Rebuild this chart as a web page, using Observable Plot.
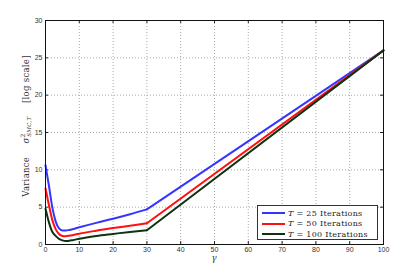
<!DOCTYPE html>
<html>
<head>
<meta charset="utf-8">
<script src="https://cdn.jsdelivr.net/npm/d3@7"></script>
<script src="https://cdn.jsdelivr.net/npm/@observablehq/plot@0.6"></script>
<style>
  html, body { margin: 0; padding: 0; background: #fff; }
  #wrap { position: relative; width: 415px; height: 274px; }
  #legend {
    position: absolute; left: 257px; top: 205px; width: 121px; height: 35px;
    border: 1px solid #333; background: #fff; box-sizing: border-box;
    font-family: "DejaVu Serif", "Liberation Serif", serif; font-size: 8px; color: #222;
  }
  #legend .row { position: absolute; left: 4px; height: 11px; display: flex; align-items: center; white-space: nowrap; letter-spacing: 0.3px; }
  #legend .sw { width: 23px; height: 0; border-top: 2px solid; margin-right: 3px; }
  #legend i { font-style: italic; }
</style>
</head>
<body>
<div id="wrap"></div>
<script>
// Curved part (gamma 0..30)
const gammaCurve = [0, 1, 2, 3, 4, 5, 6, 7, 8, 10, 15, 20, 25, 30];
const var25 = [10.6, 7.9, 5.0, 3.1, 2.15, 1.88, 1.88, 1.95, 2.05, 2.3, 2.9, 3.45, 4.05, 4.7];
const var50 = [7.5, 5.3, 3.3, 2.05, 1.4, 1.15, 1.12, 1.17, 1.25, 1.45, 1.85, 2.2, 2.52, 2.85];
const var100 = [4.8, 3.0, 1.7, 1.15, 0.75, 0.55, 0.47, 0.5, 0.58, 0.78, 1.15, 1.42, 1.68, 1.9];
// Straight part (gamma 30..100)
const gammaLine = [30, 100];
const line25 = [4.7, 26];
const line50 = [2.85, 26];
const line100 = [1.9, 26];

const seriesNames = ["T = 25 Iterations", "T = 50 Iterations", "T = 100 Iterations"];
const colors = ["#3535ff", "#ff1010", "#0f3312"];
const xTicks = [0, 10, 20, 30, 40, 50, 60, 70, 80, 90, 100];
const yTicks = [0, 5, 10, 15, 20, 25, 30];

const curveData = [];
[var25, var50, var100].forEach((arr, s) => arr.forEach((v, i) => curveData.push({g: gammaCurve[i], v, s: seriesNames[s]})));
const lineData = [];
[line25, line50, line100].forEach((arr, s) => arr.forEach((v, i) => lineData.push({g: gammaLine[i], v, s: seriesNames[s]})));

const color = {domain: seriesNames, range: colors};

const chart = Plot.plot({
  width: 415, height: 274,
  marginLeft: 45, marginRight: 32, marginTop: 20, marginBottom: 30,
  style: {fontFamily: "Liberation Sans, Arial, sans-serif", fontSize: "7px", color: "#333", background: "#fff"},
  x: {domain: [0, 100], ticks: xTicks},
  y: {domain: [0, 30], ticks: yTicks},
  color,
  marks: [
    Plot.gridX(xTicks.slice(1, -1), {stroke: "#aaa", strokeOpacity: 1, strokeDasharray: "1,2"}),
    Plot.gridY(yTicks.slice(1, -1), {stroke: "#aaa", strokeOpacity: 1, strokeDasharray: "1,2"}),
    Plot.ruleX(xTicks, {y1: 0, y2: 0.4, stroke: "#222"}),
    Plot.ruleX(xTicks, {y1: 30, y2: 29.6, stroke: "#222"}),
    Plot.ruleY(yTicks, {x1: 0, x2: 0.9, stroke: "#222"}),
    Plot.ruleY(yTicks, {x1: 100, x2: 99.1, stroke: "#222"}),
    Plot.axisX(xTicks, {tickSize: 0, tickPadding: 3, label: null}),
    Plot.axisY(yTicks, {tickSize: 0, tickPadding: 3, label: null}),
    Plot.line(curveData, {x: "g", y: "v", z: "s", stroke: "s", strokeWidth: 2, curve: "monotone-x"}),
    Plot.line(lineData, {x: "g", y: "v", z: "s", stroke: "s", strokeWidth: 2}),
    Plot.frame({stroke: "#111", strokeWidth: 1})
  ]
});

const wrap = document.getElementById("wrap");
wrap.appendChild(chart);

const svg = d3.select(chart);
// y-axis label
const yl = svg.append("text")
  .attr("transform", "translate(29,126) rotate(-90)")
  .attr("text-anchor", "middle")
  .attr("font-family", "DejaVu Serif, Liberation Serif, serif")
  .attr("font-size", "8.5px")
  .attr("letter-spacing", "0.3px")
  .attr("fill", "#333");
yl.append("tspan").text("Variance\u2003\u2002");
yl.append("tspan").attr("font-style", "italic").text("σ");
yl.append("tspan").attr("font-size", "6px").attr("dy", "-4").text("2");
yl.append("tspan").attr("font-size", "5.5px").attr("font-style", "italic").attr("dx", "-3.5").attr("dy", "6").text("SMC,T");
yl.append("tspan").attr("dy", "-2").text("\u2003\u2002[log scale]");
// x-axis label
svg.append("text")
  .attr("x", 214).attr("y", 261)
  .attr("text-anchor", "middle")
  .attr("font-family", "DejaVu Serif, Liberation Serif, serif")
  .attr("font-style", "italic")
  .attr("font-size", "8.5px")
  .attr("fill", "#333")
  .text("γ");

// legend
const legend = document.createElement("div");
legend.id = "legend";
seriesNames.forEach((name, i) => {
  const row = document.createElement("div");
  row.className = "row";
  row.style.top = (1.5 + i * 10.7) + "px";
  const sw = document.createElement("span");
  sw.className = "sw";
  sw.style.borderColor = colors[i];
  row.appendChild(sw);
  const t = document.createElement("span");
  const parts = name.split(" = ");
  t.innerHTML = "<i>" + parts[0] + "</i> = " + parts[1];
  row.appendChild(t);
  legend.appendChild(row);
});
wrap.appendChild(legend);
</script>
</body>
</html>
